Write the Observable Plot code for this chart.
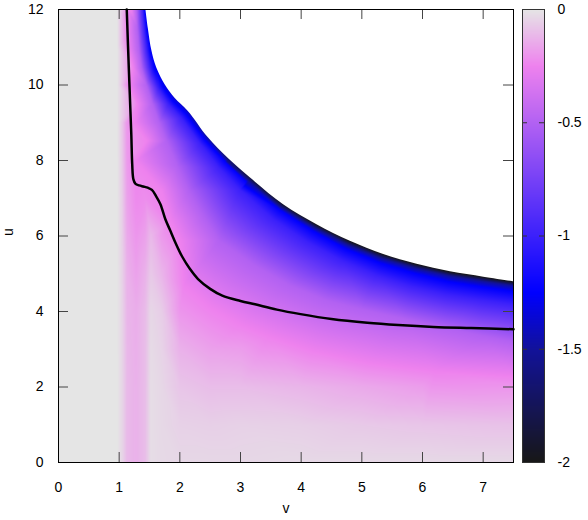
<!DOCTYPE html>
<html><head><meta charset="utf-8">
<script src="https://cdn.jsdelivr.net/npm/d3@7"></script>
<script src="https://cdn.jsdelivr.net/npm/@observablehq/plot@0.6"></script>
<style>
body{margin:0;background:#fff;}
#wrap{position:relative;width:588px;height:520px;}
#wrap svg{position:absolute;left:0;top:0;}
</style></head><body><div id="wrap"></div>
<script>
// axis ticks
const xTicks = [0,1,2,3,4,5,6,7];
const yTicks = [0,2,4,6,8,10,12];
const cbTicks = [0,-0.5,-1,-1.5,-2];
const cbMinor = [-0.5,-1,-1.5];
// palette
const paletteLevels = [-2,-1.5,-1.25,-0.25,0];
const paletteColors = ["#171717","#12129a","#0000ff","#ee82ee","#e5e5e5"];

// black curve
const curveV = [1.125,1.16,1.2,1.215,1.235,1.27,1.33,1.40,1.47,1.54,1.61,1.68,1.76,1.84,1.92,2.04,2.17,2.3,2.5,2.7,3.0,3.24,3.6,3.99,4.5,5.09,5.6,6.18,6.8,7.5];
const curveU = [12,10.4,8.69,7.9,7.5,7.38,7.34,7.31,7.28,7.22,7.05,6.84,6.45,6.15,5.85,5.45,5.12,4.86,4.6,4.42,4.28,4.19,4.05,3.93,3.8,3.70,3.64,3.59,3.56,3.53];

// upper edge of the defined region (and the value on it)
const edgeV = [1.44,1.48,1.54,1.62,1.76,1.92,2.14,2.47,2.8,3.16,3.71,4.26,4.81,5.36,5.91,6.46,7.01,7.5];
const edgeU = [12,11.5,10.9,10.45,10.0,9.65,9.3,8.6,8.05,7.54,6.83,6.30,5.86,5.51,5.25,5.05,4.91,4.79];
const edgeF = [-1.3,-1.3,-1.3,-1.3,-1.33,-1.36,-1.4,-1.5,-1.7,-1.85,-1.95,-2,-2,-2,-2,-2,-2,-2];

// samples above the edge (hidden under white)
const outV = [2,3,4,5,6,7.5,7.5];
const outU = [11.5,11,10.5,10,9.5,12,8];
const outF = [-2,-2,-2,-2,-2,-2,-2];

// level lines
const levelF = [-1.5,-1.25,-1.0,-0.5,-0.25];
const levelV = [
  [2.77,3.13,3.68,4.23,4.78,5.33,5.89,6.44,6.99,7.5],
  [1.42,1.455,1.51,1.58,1.72,1.88,2.10,2.42,2.75,3.10,3.65,4.20,4.75,5.31,5.87,6.43,6.98,7.5],
  [1.39,1.413,1.456,1.51,1.65,1.81,2.02,2.34,2.65,2.99,3.54,4.10,4.67,5.24,5.81,6.39,6.95,7.5],
  [1.29,1.30,1.33,1.37,1.45,1.55,1.66,1.78,1.96,2.15,2.40,2.65,3.2,3.8,4.4,5.0,5.7,6.4,7.0,7.5],
  [1.2,1.23,1.3,1.46,1.7,1.85,2.0,2.07,2.5,3.0,3.46,4.2,5.12,6.2,7.5]
];
const levelU = [
  [7.98,7.46,6.74,6.20,5.75,5.40,5.14,4.94,4.80,4.68],
  [12,11.5,10.9,10.45,9.96,9.59,9.24,8.54,7.96,7.43,6.69,6.13,5.65,5.28,5.01,4.79,4.65,4.53],
  [12,11.5,10.9,10.45,9.90,9.50,9.14,8.43,7.80,7.22,6.44,5.84,5.35,4.96,4.67,4.45,4.31,4.19],
  [12,11.5,10.9,10.45,10.0,9.5,9.0,8.52,7.85,7.19,6.5,5.87,5.25,4.7,4.3,4.05,3.8,3.55,3.35,3.2],
  [12,10.45,9.5,8.52,7.19,6.4,5.87,4.7,4.1,3.65,3.35,2.95,2.64,2.42,2.28]
];

// vertical sample columns (lower and left part of the field); -0.001 is the grey "zero"
const colV = [0,0.97,1.05,1.13,1.28,1.43,1.52,1.7,2.0,2.5,3.0,4.0,5.0,6.0,7.5];
const colU = [
  [0,1,2,3,4,5,6,7,8,9,10,11,12],
  [0,1,2,3,4,5,6,7,8,9,10,11,12],
  [0,1,2,3,4,5,6,7,8,9,10,11,12],
  [0,1,2,3,4,5,6,7,8,9,10,11,12],
  [0,1,2,3,4,5,6,7,8,9],
  [0,1,2,3,4,5,6,7],
  [0,1,2,3,4,5,6],
  [0,1,2,3,4,5,6],
  [0,1,2,3,4],
  [0,1,2,3],
  [0,1,2,3],
  [0,1,2],
  [0,1,2],
  [0,1,2],
  [0,1,2]
];
const colF = [
  [-0.001,-0.001,-0.001,-0.001,-0.001,-0.001,-0.001,-0.001,-0.001,-0.001,-0.001,-0.001,-0.001],
  [-0.001,-0.001,-0.001,-0.001,-0.001,-0.001,-0.001,-0.001,-0.001,-0.001,-0.001,-0.001,-0.001],
  [-0.04,-0.04,-0.04,-0.042,-0.045,-0.05,-0.055,-0.06,-0.07,-0.08,-0.09,-0.1,-0.1],
  [-0.11,-0.11,-0.11,-0.115,-0.12,-0.13,-0.15,-0.17,-0.19,-0.2,-0.21,-0.22,-0.24],
  [-0.13,-0.13,-0.13,-0.135,-0.14,-0.17,-0.2,-0.23,-0.25,-0.26],
  [-0.1,-0.1,-0.1,-0.1,-0.105,-0.13,-0.17,-0.22],
  [-0.02,-0.02,-0.02,-0.025,-0.035,-0.07,-0.11],
  [-0.03,-0.032,-0.035,-0.045,-0.06,-0.12,-0.19],
  [-0.035,-0.05,-0.08,-0.13,-0.2],
  [-0.035,-0.055,-0.1,-0.17],
  [-0.035,-0.05,-0.1,-0.18],
  [-0.03,-0.055,-0.12],
  [-0.03,-0.07,-0.15],
  [-0.03,-0.08,-0.18],
  [-0.03,-0.09,-0.2]
];

// build sample table
const pts = [];
colV.forEach((v,i)=>colU[i].forEach((u,j)=>pts.push({v,u,f:colF[i][j]})));
levelF.forEach((f,k)=>levelV[k].forEach((v,j)=>pts.push({v,u:levelU[k][j],f})));
edgeV.forEach((v,i)=>pts.push({v,u:edgeU[i],f:edgeF[i]}));
outV.forEach((v,i)=>pts.push({v,u:outU[i],f:outF[i]}));

// the flat grey band on the left (first two sample columns)
const greyBand = [{v1:colV[0], v2:colV[1], u1:yTicks[0], u2:yTicks[yTicks.length-1], f:colF[0][0]}];

const colorOpts = {type:"linear", domain: paletteLevels, range: paletteColors, interpolate:"rgb", clamp:true};
const font = "'Liberation Sans', Arial, Helvetica, sans-serif";
const edgeIdx = edgeV.map((_,i)=>i);
const curveIdx = curveV.map((_,i)=>i);
const fw = 588-58-75, fh = 520-9-58;

const main = Plot.plot({
  width:588, height:520,
  marginLeft:58, marginRight:75, marginTop:9, marginBottom:58,
  style:{fontFamily:font, fontSize:"14px", background:"white", color:"black", overflow:"visible"},
  x:{domain:[0,7.5]},
  y:{domain:[0,12]},
  color: colorOpts,
  marks:[
    Plot.raster(pts, {x:"v", y:"u", fill:"f", interpolate:"barycentric", x1:0, x2:7.5, y1:0, y2:12}),
    Plot.rect(greyBand, {x1:"v1", x2:"v2", y1:"u1", y2:"u2", fill:"f"}),
    Plot.areaY(edgeIdx, {x:i=>edgeV[i], y1:i=>edgeU[i], y2:()=>yTicks[yTicks.length-1], fill:"white", curve:"catmull-rom"}),
    Plot.line(curveIdx, {x:i=>curveV[i], y:i=>curveU[i], stroke:"black", strokeWidth:2.5, curve:"catmull-rom"}),
    Plot.tickX(xTicks, {x:d=>d, insetTop:fh-10, stroke:"#444"}),
    Plot.tickX(xTicks, {x:d=>d, insetBottom:fh-10, stroke:"#444"}),
    Plot.tickY(yTicks, {y:d=>d, insetRight:fw-10, stroke:"#444"}),
    Plot.tickY(yTicks, {y:d=>d, insetLeft:fw-10, stroke:"#444"}),
    Plot.frame({stroke:"black"}),
    Plot.axisX({ticks:xTicks, tickSize:0, tickPadding:20, label:null, tickFormat:d=>String(d), fontSize:14}),
    Plot.axisY({ticks:yTicks, tickSize:0, tickPadding:15, label:null, tickFormat:d=>String(d), fontSize:14}),
    Plot.text(["v"], {text:d=>d, frameAnchor:"bottom", dy:50, fontSize:14}),
    Plot.text(["u"], {text:d=>d, frameAnchor:"left", dx:-50, rotate:-90, fontSize:14})
  ]
});

const cbW = 588-522-44;
const cbar = Plot.plot({
  width:588, height:520,
  marginLeft:522, marginRight:44, marginTop:9, marginBottom:58,
  style:{fontFamily:font, fontSize:"14px", background:"transparent", color:"black", overflow:"visible"},
  x:{domain:[0,1], axis:null},
  y:{domain:[-2,0], axis:null},
  color: colorOpts,
  marks:[
    Plot.raster({x1:0, x2:1, y1:-2, y2:0, fill:(x,y)=>Math.min(y,-0.001)}),
    Plot.tickY(cbMinor, {y:d=>d, insetRight:cbW-5, stroke:"#333"}),
    Plot.tickY(cbMinor, {y:d=>d, insetLeft:cbW-5, stroke:"#333"}),
    Plot.frame({stroke:"#333"}),
    Plot.axisY({anchor:"right", ticks:cbTicks, tickSize:0, tickPadding:13, label:null, tickFormat:d=>String(d), fontSize:14})
  ]
});

const wrap = document.getElementById("wrap");
wrap.appendChild(main);
wrap.appendChild(cbar);
</script></body></html>
